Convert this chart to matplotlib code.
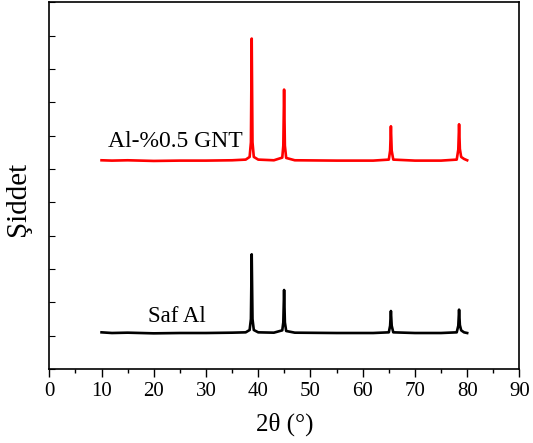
import matplotlib
matplotlib.use("Agg")
import matplotlib.pyplot as plt
from matplotlib.ticker import MultipleLocator

plt.rcParams['font.family'] = ['Liberation Serif', 'DejaVu Serif']
plt.rcParams['mathtext.fontset'] = 'stix'

# traced XRD patterns (2theta in degrees, intensity in a.u.)
two_theta = [10, 12, 15, 20, 25, 30, 35, 37.6, 38.35, 38.6, 38.75, 38.9, 39.15, 40,
             43, 44.6, 44.8, 44.95, 45.1, 45.35, 47, 55, 62, 65.0, 65.25, 65.4,
             65.55, 65.85, 70, 75, 78.0, 78.3, 78.45, 78.6, 78.85, 79.4, 80]

saf_al = [110, 108, 109, 107, 108, 108, 109, 110, 117, 150, 344, 150, 117, 110,
          109, 116, 140, 237, 140, 114, 109, 108, 108, 110, 130, 174, 130, 110,
          108, 108, 110, 130, 178, 132, 116, 110, 108]

al_gnt = [106, 105, 106, 104, 105, 105, 106, 108, 116, 160, 471, 160, 116, 108,
          106, 114, 150, 318, 150, 113, 106, 105, 105, 108, 135, 208, 135, 108,
          105, 105, 108, 138, 214, 140, 116, 110, 106]
gnt_offset = 520

fig = plt.figure(figsize=(5.33, 4.43), dpi=100)
ax = fig.add_axes([0.0925, 0.167, 0.882, 0.828])

ax.plot(two_theta, saf_al, color='black', lw=1.9)
ax.plot(two_theta, [v + gnt_offset for v in al_gnt], color='#ff0000', lw=1.9)

ax.text(24.1, 665, 'Al-%0.5 GNT', fontsize=17, ha='center', va='baseline')
ax.text(24.4, 141, 'Saf Al', fontsize=16.5, ha='center', va='baseline')

ax.set_xlim(0, 90)
ax.set_ylim(0, 1100)
ax.xaxis.set_major_locator(MultipleLocator(10))
ax.xaxis.set_minor_locator(MultipleLocator(5))
ax.yaxis.set_major_locator(MultipleLocator(100))
ax.tick_params(axis='x', which='major', direction='out', length=6, width=1, labelsize=15)
ax.tick_params(axis='x', which='minor', direction='out', length=3, width=1)
ax.tick_params(axis='y', direction='in', length=4, width=0.8, labelleft=False)
for s in ax.spines.values():
    s.set_linewidth(1.2)

ax.set_xlabel('2θ (°)', fontsize=18, labelpad=8)
ax.set_ylabel('Şiddet', fontsize=21)
ax.yaxis.set_label_coords(-0.038, 0.465)

fig.savefig('out.png', dpi=100)
